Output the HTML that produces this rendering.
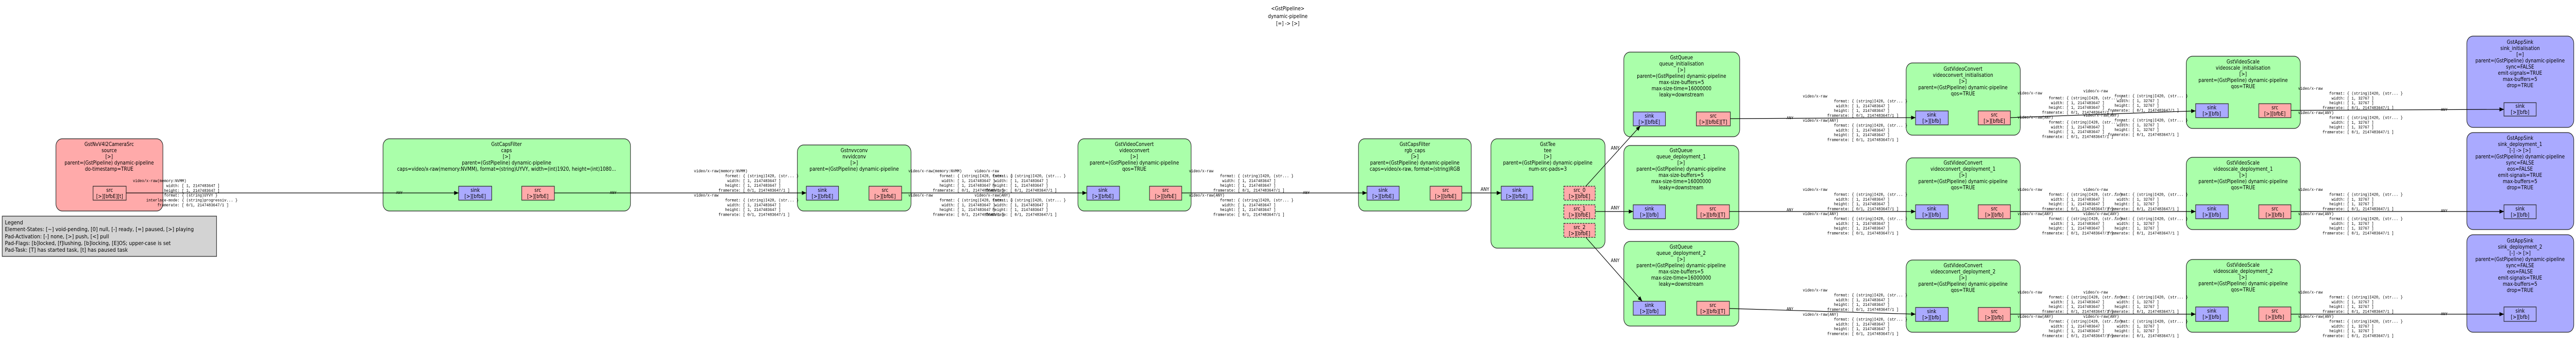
<!DOCTYPE html>
<html><head><meta charset="utf-8"><style>
html,body{margin:0;padding:0;background:#fff;width:100vw;height:100vh;overflow:hidden;}
svg{display:block;position:absolute;left:0;top:0;width:100vw;height:100vh;}
.n{font-family:"DejaVu Sans","Liberation Sans",sans-serif;font-size:10.3px;text-anchor:middle;fill:#000;}
.m{font-family:"Liberation Mono","DejaVu Sans Mono",monospace;font-size:8.3px;fill:#000;white-space:pre;}
.l{font-family:"DejaVu Sans","Liberation Sans",sans-serif;font-size:11px;fill:#000;}
.a{font-family:"DejaVu Sans","Liberation Sans",sans-serif;font-size:9.5px;fill:#000;}
.nd{stroke:#222;stroke-width:1.2;}
.pd{stroke:#222;stroke-width:1.2;}
.e{stroke:#000;stroke-width:1.2;fill:none;}
</style></head><body>
<svg viewBox="0 0 5757 661" preserveAspectRatio="none" xmlns="http://www.w3.org/2000/svg">
<defs><marker id="ar" markerWidth="10" markerHeight="8" refX="10" refY="4" orient="auto" markerUnits="userSpaceOnUse"><path d="M0,0 L10,4 L0,8 z" fill="#000"/></marker></defs>

<text class="n" x="2878" y="20">&lt;GstPipeline&gt;</text>
<text class="n" x="2878" y="35">dynamic-pipeline</text>
<text class="n" x="2878" y="49">[=] -&gt; [&gt;]</text>

<rect x="5" y="419" width="479" height="78" fill="#d3d3d3" stroke="#444" stroke-width="1.5"/>
<text class="l" x="11" y="435">Legend</text>
<text class="l" x="11" y="448">Element-States: [~] void-pending, [0] null, [-] ready, [=] paused, [&gt;] playing</text>
<text class="l" x="11" y="462">Pad-Activation: [-] none, [&gt;] push, [&lt;] pull</text>
<text class="l" x="11" y="475">Pad-Flags: [b]locked, [f]lushing, [b]locking, [E]OS; upper-case is set</text>
<text class="l" x="11" y="488">Pad-Task: [T] has started task, [t] has paused task</text>

<rect class="nd" x="125" y="269" width="239" height="140" rx="14" fill="#ffaaaa"/>
<text class="n" x="244" y="283">GstNvV4l2CameraSrc<tspan x="244" dy="12">source</tspan><tspan x="244" dy="12">[&gt;]</tspan><tspan x="244" dy="12">parent=(GstPipeline) dynamic-pipeline</tspan><tspan x="244" dy="12">do-timestamp=TRUE</tspan></text>
<rect class="pd" x="208" y="361" width="74" height="27" fill="#ffaaaa"/>
<text class="n" x="245" y="372">src<tspan x="245" dy="12">[&gt;][bfbE][t]</tspan></text>

<rect class="nd" x="856" y="269" width="553" height="140" rx="14" fill="#aaffaa"/>
<text class="n" x="1132" y="283">GstCapsFilter<tspan x="1132" dy="12">caps</tspan><tspan x="1132" dy="12">[&gt;]</tspan><tspan x="1132" dy="12">parent=(GstPipeline) dynamic-pipeline</tspan><tspan x="1132" dy="12">caps=video/x-raw(memory:NVMM), format=(string)UYVY, width=(int)1920, height=(int)1080...</tspan></text>
<rect class="pd" x="1025" y="361" width="74" height="27" fill="#aaaaff"/>
<text class="n" x="1062" y="372">sink<tspan x="1062" dy="12">[&gt;][bfbE]</tspan></text>
<rect class="pd" x="1166" y="361" width="73" height="27" fill="#ffaaaa"/>
<text class="n" x="1202" y="372">src<tspan x="1202" dy="12">[&gt;][bfbE]</tspan></text>

<rect class="nd" x="1782" y="281" width="254" height="128" rx="14" fill="#aaffaa"/>
<text class="n" x="1909" y="295">Gstnvvconv<tspan x="1909" dy="12">nvvidconv</tspan><tspan x="1909" dy="12">[&gt;]</tspan><tspan x="1909" dy="12">parent=(GstPipeline) dynamic-pipeline</tspan></text>
<rect class="pd" x="1802" y="361" width="72" height="27" fill="#aaaaff"/>
<text class="n" x="1838" y="372">sink<tspan x="1838" dy="12">[&gt;][bfbE]</tspan></text>
<rect class="pd" x="1942" y="361" width="73" height="27" fill="#ffaaaa"/>
<text class="n" x="1978" y="372">src<tspan x="1978" dy="12">[&gt;][bfbE]</tspan></text>

<rect class="nd" x="2409" y="269" width="253" height="140" rx="14" fill="#aaffaa"/>
<text class="n" x="2535" y="283">GstVideoConvert<tspan x="2535" dy="12">videoconvert</tspan><tspan x="2535" dy="12">[&gt;]</tspan><tspan x="2535" dy="12">parent=(GstPipeline) dynamic-pipeline</tspan><tspan x="2535" dy="12">qos=TRUE</tspan></text>
<rect class="pd" x="2429" y="361" width="73" height="27" fill="#aaaaff"/>
<text class="n" x="2465" y="372">sink<tspan x="2465" dy="12">[&gt;][bfbE]</tspan></text>
<rect class="pd" x="2569" y="361" width="72" height="27" fill="#ffaaaa"/>
<text class="n" x="2605" y="372">src<tspan x="2605" dy="12">[&gt;][bfbE]</tspan></text>

<rect class="nd" x="3036" y="269" width="252" height="140" rx="14" fill="#aaffaa"/>
<text class="n" x="3162" y="283">GstCapsFilter<tspan x="3162" dy="12">rgb_caps</tspan><tspan x="3162" dy="12">[&gt;]</tspan><tspan x="3162" dy="12">parent=(GstPipeline) dynamic-pipeline</tspan><tspan x="3162" dy="12">caps=video/x-raw, format=(string)RGB</tspan></text>
<rect class="pd" x="3055" y="361" width="72" height="27" fill="#aaaaff"/>
<text class="n" x="3091" y="372">sink<tspan x="3091" dy="12">[&gt;][bfbE]</tspan></text>
<rect class="pd" x="3196" y="361" width="71" height="27" fill="#ffaaaa"/>
<text class="n" x="3231" y="372">src<tspan x="3231" dy="12">[&gt;][bfbE]</tspan></text>

<rect class="nd" x="3332" y="269" width="255" height="212" rx="14" fill="#aaffaa"/>
<text class="n" x="3459" y="283">GstTee<tspan x="3459" dy="12">tee</tspan><tspan x="3459" dy="12">[&gt;]</tspan><tspan x="3459" dy="12">parent=(GstPipeline) dynamic-pipeline</tspan><tspan x="3459" dy="12">num-src-pads=3</tspan></text>
<rect class="pd" x="3355" y="361" width="71" height="27" fill="#aaaaff"/>
<text class="n" x="3390" y="372">sink<tspan x="3390" dy="12">[&gt;][bfbE]</tspan></text>
<rect class="pd" x="3495" y="361" width="70" height="27" fill="#ffaaaa" stroke-dasharray="4,2"/>
<text class="n" x="3530" y="372">src_0<tspan x="3530" dy="12">[&gt;][bfbE]</tspan></text>
<rect class="pd" x="3495" y="397" width="70" height="27" fill="#ffaaaa" stroke-dasharray="4,2"/>
<text class="n" x="3530" y="408">src_1<tspan x="3530" dy="12">[&gt;][bfbE]</tspan></text>
<rect class="pd" x="3495" y="433" width="70" height="27" fill="#ffaaaa" stroke-dasharray="4,2"/>
<text class="n" x="3530" y="444">src_2<tspan x="3530" dy="12">[&gt;][bfbE]</tspan></text>

<rect class="nd" x="3629" y="101" width="259" height="164" rx="14" fill="#aaffaa"/>
<text class="n" x="3758" y="115">GstQueue<tspan x="3758" dy="12">queue_initialisation</tspan><tspan x="3758" dy="12">[&gt;]</tspan><tspan x="3758" dy="12">parent=(GstPipeline) dynamic-pipeline</tspan><tspan x="3758" dy="12">max-size-buffers=5</tspan><tspan x="3758" dy="12">max-size-time=16000000</tspan><tspan x="3758" dy="12">leaky=downstream</tspan></text>
<rect class="pd" x="3650" y="217" width="72" height="27" fill="#aaaaff"/>
<text class="n" x="3686" y="228">sink<tspan x="3686" dy="12">[&gt;][bfbE]</tspan></text>
<rect class="pd" x="3791" y="217" width="76" height="27" fill="#ffaaaa"/>
<text class="n" x="3829" y="228">src<tspan x="3829" dy="12">[&gt;][bfbE][T]</tspan></text>

<rect class="nd" x="3629" y="282" width="257" height="163" rx="14" fill="#aaffaa"/>
<text class="n" x="3757" y="295">GstQueue<tspan x="3757" dy="12">queue_deployment_1</tspan><tspan x="3757" dy="12">[&gt;]</tspan><tspan x="3757" dy="12">parent=(GstPipeline) dynamic-pipeline</tspan><tspan x="3757" dy="12">max-size-buffers=5</tspan><tspan x="3757" dy="12">max-size-time=16000000</tspan><tspan x="3757" dy="12">leaky=downstream</tspan></text>
<rect class="pd" x="3650" y="397" width="72" height="27" fill="#aaaaff"/>
<text class="n" x="3686" y="408">sink<tspan x="3686" dy="12">[&gt;][bfb]</tspan></text>
<rect class="pd" x="3792" y="397" width="73" height="27" fill="#ffaaaa"/>
<text class="n" x="3828" y="408">src<tspan x="3828" dy="12">[&gt;][bfb][T]</tspan></text>

<rect class="nd" x="3629" y="468" width="257" height="164" rx="14" fill="#aaffaa"/>
<text class="n" x="3757" y="482">GstQueue<tspan x="3757" dy="12">queue_deployment_2</tspan><tspan x="3757" dy="12">[&gt;]</tspan><tspan x="3757" dy="12">parent=(GstPipeline) dynamic-pipeline</tspan><tspan x="3757" dy="12">max-size-buffers=5</tspan><tspan x="3757" dy="12">max-size-time=16000000</tspan><tspan x="3757" dy="12">leaky=downstream</tspan></text>
<rect class="pd" x="3650" y="584" width="72" height="27" fill="#aaaaff"/>
<text class="n" x="3686" y="595">sink<tspan x="3686" dy="12">[&gt;][bfb]</tspan></text>
<rect class="pd" x="3792" y="584" width="73" height="27" fill="#ffaaaa"/>
<text class="n" x="3828" y="595">src<tspan x="3828" dy="12">[&gt;][bfb][T]</tspan></text>

<rect class="nd" x="4260" y="122" width="255" height="140" rx="14" fill="#aaffaa"/>
<text class="n" x="4387" y="137">GstVideoConvert<tspan x="4387" dy="12">videoconvert_initialisation</tspan><tspan x="4387" dy="12">[&gt;]</tspan><tspan x="4387" dy="12">parent=(GstPipeline) dynamic-pipeline</tspan><tspan x="4387" dy="12">qos=TRUE</tspan></text>
<rect class="pd" x="4281" y="215" width="73" height="27" fill="#aaaaff"/>
<text class="n" x="4317" y="226">sink<tspan x="4317" dy="12">[&gt;][bfb]</tspan></text>
<rect class="pd" x="4421" y="215" width="72" height="27" fill="#ffaaaa"/>
<text class="n" x="4457" y="226">src<tspan x="4457" dy="12">[&gt;][bfbE]</tspan></text>

<rect class="nd" x="4260" y="306" width="255" height="139" rx="14" fill="#aaffaa"/>
<text class="n" x="4387" y="319">GstVideoConvert<tspan x="4387" dy="12">videoconvert_deployment_1</tspan><tspan x="4387" dy="12">[&gt;]</tspan><tspan x="4387" dy="12">parent=(GstPipeline) dynamic-pipeline</tspan><tspan x="4387" dy="12">qos=TRUE</tspan></text>
<rect class="pd" x="4281" y="397" width="73" height="27" fill="#aaaaff"/>
<text class="n" x="4317" y="408">sink<tspan x="4317" dy="12">[&gt;][bfb]</tspan></text>
<rect class="pd" x="4421" y="397" width="72" height="27" fill="#ffaaaa"/>
<text class="n" x="4457" y="408">src<tspan x="4457" dy="12">[&gt;][bfb]</tspan></text>

<rect class="nd" x="4260" y="504" width="255" height="140" rx="14" fill="#aaffaa"/>
<text class="n" x="4387" y="518">GstVideoConvert<tspan x="4387" dy="12">videoconvert_deployment_2</tspan><tspan x="4387" dy="12">[&gt;]</tspan><tspan x="4387" dy="12">parent=(GstPipeline) dynamic-pipeline</tspan><tspan x="4387" dy="12">qos=TRUE</tspan></text>
<rect class="pd" x="4281" y="596" width="73" height="27" fill="#aaaaff"/>
<text class="n" x="4317" y="607">sink<tspan x="4317" dy="12">[&gt;][bfb]</tspan></text>
<rect class="pd" x="4421" y="596" width="72" height="27" fill="#ffaaaa"/>
<text class="n" x="4457" y="607">src<tspan x="4457" dy="12">[&gt;][bfb]</tspan></text>

<rect class="nd" x="4886" y="109" width="255" height="140" rx="14" fill="#aaffaa"/>
<text class="n" x="5013" y="123">GstVideoScale<tspan x="5013" dy="12">videoscale_initialisation</tspan><tspan x="5013" dy="12">[&gt;]</tspan><tspan x="5013" dy="12">parent=(GstPipeline) dynamic-pipeline</tspan><tspan x="5013" dy="12">qos=TRUE</tspan></text>
<rect class="pd" x="4907" y="201" width="73" height="27" fill="#aaaaff"/>
<text class="n" x="4943" y="212">sink<tspan x="4943" dy="12">[&gt;][bfb]</tspan></text>
<rect class="pd" x="5048" y="201" width="72" height="27" fill="#ffaaaa"/>
<text class="n" x="5084" y="212">src<tspan x="5084" dy="12">[&gt;][bfbE]</tspan></text>

<rect class="nd" x="4886" y="305" width="255" height="140" rx="14" fill="#aaffaa"/>
<text class="n" x="5013" y="319">GstVideoScale<tspan x="5013" dy="12">videoscale_deployment_1</tspan><tspan x="5013" dy="12">[&gt;]</tspan><tspan x="5013" dy="12">parent=(GstPipeline) dynamic-pipeline</tspan><tspan x="5013" dy="12">qos=TRUE</tspan></text>
<rect class="pd" x="4907" y="397" width="73" height="27" fill="#aaaaff"/>
<text class="n" x="4943" y="408">sink<tspan x="4943" dy="12">[&gt;][bfb]</tspan></text>
<rect class="pd" x="5048" y="397" width="72" height="27" fill="#ffaaaa"/>
<text class="n" x="5084" y="408">src<tspan x="5084" dy="12">[&gt;][bfb]</tspan></text>

<rect class="nd" x="4886" y="503" width="255" height="141" rx="14" fill="#aaffaa"/>
<text class="n" x="5013" y="517">GstVideoScale<tspan x="5013" dy="12">videoscale_deployment_2</tspan><tspan x="5013" dy="12">[&gt;]</tspan><tspan x="5013" dy="12">parent=(GstPipeline) dynamic-pipeline</tspan><tspan x="5013" dy="12">qos=TRUE</tspan></text>
<rect class="pd" x="4907" y="595" width="73" height="28" fill="#aaaaff"/>
<text class="n" x="4943" y="606">sink<tspan x="4943" dy="12">[&gt;][bfb]</tspan></text>
<rect class="pd" x="5048" y="595" width="72" height="28" fill="#ffaaaa"/>
<text class="n" x="5084" y="606">src<tspan x="5084" dy="12">[&gt;][bfb]</tspan></text>

<rect class="nd" x="5513" y="70" width="239" height="177" rx="14" fill="#aaaaff"/>
<text class="n" x="5632" y="85">GstAppSink<tspan x="5632" dy="12">sink_initialisation</tspan><tspan x="5632" dy="12">[=]</tspan><tspan x="5632" dy="12">parent=(GstPipeline) dynamic-pipeline</tspan><tspan x="5632" dy="12">sync=FALSE</tspan><tspan x="5632" dy="12">emit-signals=TRUE</tspan><tspan x="5632" dy="12">max-buffers=5</tspan><tspan x="5632" dy="12">drop=TRUE</tspan></text>
<rect class="pd" x="5596" y="199" width="72" height="26" fill="#aaaaff"/>
<text class="n" x="5632" y="209">sink<tspan x="5632" dy="12">[&gt;][bfb]</tspan></text>

<rect class="nd" x="5513" y="257" width="239" height="188" rx="14" fill="#aaaaff"/>
<text class="n" x="5632" y="271">GstAppSink<tspan x="5632" dy="12">sink_deployment_1</tspan><tspan x="5632" dy="12">[-] -&gt; [&gt;]</tspan><tspan x="5632" dy="12">parent=(GstPipeline) dynamic-pipeline</tspan><tspan x="5632" dy="12">sync=FALSE</tspan><tspan x="5632" dy="12">eos=FALSE</tspan><tspan x="5632" dy="12">emit-signals=TRUE</tspan><tspan x="5632" dy="12">max-buffers=5</tspan><tspan x="5632" dy="12">drop=TRUE</tspan></text>
<rect class="pd" x="5596" y="397" width="72" height="27" fill="#aaaaff"/>
<text class="n" x="5632" y="408">sink<tspan x="5632" dy="12">[&gt;][bfb]</tspan></text>

<rect class="nd" x="5513" y="455" width="239" height="189" rx="14" fill="#aaaaff"/>
<text class="n" x="5632" y="470">GstAppSink<tspan x="5632" dy="12">sink_deployment_2</tspan><tspan x="5632" dy="12">[-] -&gt; [&gt;]</tspan><tspan x="5632" dy="12">parent=(GstPipeline) dynamic-pipeline</tspan><tspan x="5632" dy="12">sync=FALSE</tspan><tspan x="5632" dy="12">eos=FALSE</tspan><tspan x="5632" dy="12">emit-signals=TRUE</tspan><tspan x="5632" dy="12">max-buffers=5</tspan><tspan x="5632" dy="12">drop=TRUE</tspan></text>
<rect class="pd" x="5596" y="595" width="72" height="28" fill="#aaaaff"/>
<text class="n" x="5632" y="606">sink<tspan x="5632" dy="12">[&gt;][bfb]</tspan></text>

<g marker-end="url(#ar)">
<line class="e" x1="282" y1="374" x2="1025" y2="374"/>
<line class="e" x1="1239" y1="374" x2="1802" y2="374"/>
<line class="e" x1="2015" y1="374" x2="2429" y2="374"/>
<line class="e" x1="2641" y1="374" x2="3055" y2="374"/>
<line class="e" x1="3267" y1="374" x2="3355" y2="374"/>
<line class="e" x1="3544" y1="361" x2="3666" y2="244"/>
<line class="e" x1="3565" y1="410" x2="3650" y2="410"/>
<line class="e" x1="3544" y1="460" x2="3670" y2="584"/>
<line class="e" x1="3867" y1="230" x2="4281" y2="228"/>
<line class="e" x1="3865" y1="410" x2="4281" y2="410"/>
<line class="e" x1="3865" y1="598" x2="4281" y2="609"/>
<line class="e" x1="4493" y1="228" x2="4907" y2="215"/>
<line class="e" x1="4493" y1="410" x2="4907" y2="410"/>
<line class="e" x1="4493" y1="609" x2="4907" y2="609"/>
<line class="e" x1="5120" y1="214" x2="5596" y2="212"/>
<line class="e" x1="5120" y1="410" x2="5596" y2="410"/>
<line class="e" x1="5120" y1="609" x2="5596" y2="609"/>
</g>

<text class="a" x="3309" y="370">ANY</text>
<text class="a" x="3600" y="290">ANY</text>
<text class="a" x="3600" y="406">ANY</text>
<text class="a" x="3600" y="508">ANY</text>
<text class="m" x="885" y="376">ANY</text>
<text class="m" x="1363" y="376">ANY</text>
<text class="m" x="2912" y="376">ANY</text>
<text class="m" x="3993" y="231">ANY</text>
<text class="m" x="3993" y="409">ANY</text>
<text class="m" x="3993" y="601">ANY</text>
<text class="m" x="5455" y="215">ANY</text>
<text class="m" x="5455" y="411">ANY</text>
<text class="m" x="5455" y="611">ANY</text>

<text class="m" x="297" y="353">video/x-raw(memory:NVMM)<tspan x="297" dy="9.4">               width: [ 1, 2147483647 ]</tspan><tspan x="297" dy="9.4">              height: [ 1, 2147483647 ]</tspan><tspan x="297" dy="9.4">              format: { (string)UYVY }</tspan><tspan x="297" dy="9.4">      interlace-mode: { (string)progressiv... }</tspan><tspan x="297" dy="9.4">           framerate: [ 0/1, 2147483647/1 ]</tspan></text>

<text class="m" x="1551" y="334">video/x-raw(memory:NVMM)<tspan x="1551" dy="9.4">              format: { (string)I420, (str... }</tspan><tspan x="1551" dy="9.4">               width: [ 1, 2147483647 ]</tspan><tspan x="1551" dy="9.4">              height: [ 1, 2147483647 ]</tspan><tspan x="1551" dy="9.4">           framerate: [ 0/1, 2147483647/1 ]</tspan><tspan x="1551" dy="9.4">video/x-raw</tspan><tspan x="1551" dy="9.4">              format: { (string)I420, (str... }</tspan><tspan x="1551" dy="9.4">               width: [ 1, 2147483647 ]</tspan><tspan x="1551" dy="9.4">              height: [ 1, 2147483647 ]</tspan><tspan x="1551" dy="9.4">           framerate: [ 0/1, 2147483647/1 ]</tspan></text>

<text class="m" x="2030" y="334">video/x-raw(memory:NVMM)<tspan x="2030" dy="9.4">              format: { (string)I420, (str... }</tspan><tspan x="2030" dy="9.4">               width: [ 1, 2147483647 ]</tspan><tspan x="2030" dy="9.4">              height: [ 1, 2147483647 ]</tspan><tspan x="2030" dy="9.4">           framerate: [ 0/1, 2147483647/1 ]</tspan><tspan x="2030" dy="9.4">video/x-raw</tspan><tspan x="2030" dy="9.4">              format: { (string)I420, (str... }</tspan><tspan x="2030" dy="9.4">               width: [ 1, 2147483647 ]</tspan><tspan x="2030" dy="9.4">              height: [ 1, 2147483647 ]</tspan><tspan x="2030" dy="9.4">           framerate: [ 0/1, 2147483647/1 ]</tspan></text>
<text class="m" x="2178" y="334">video/x-raw<tspan x="2178" dy="9.4">        format: { (string)I420, (str... }</tspan><tspan x="2178" dy="9.4">         width: [ 1, 2147483647 ]</tspan><tspan x="2178" dy="9.4">        height: [ 1, 2147483647 ]</tspan><tspan x="2178" dy="9.4">     framerate: [ 0/1, 2147483647/1 ]</tspan><tspan x="2178" dy="9.4">video/x-raw(ANY)</tspan><tspan x="2178" dy="9.4">        format: { (string)I420, (str... }</tspan><tspan x="2178" dy="9.4">         width: [ 1, 2147483647 ]</tspan><tspan x="2178" dy="9.4">        height: [ 1, 2147483647 ]</tspan><tspan x="2178" dy="9.4">     framerate: [ 0/1, 2147483647/1 ]</tspan></text>

<text class="m" x="2657" y="334">video/x-raw<tspan x="2657" dy="9.4">              format: { (string)I420, (str... }</tspan><tspan x="2657" dy="9.4">               width: [ 1, 2147483647 ]</tspan><tspan x="2657" dy="9.4">              height: [ 1, 2147483647 ]</tspan><tspan x="2657" dy="9.4">           framerate: [ 0/1, 2147483647/1 ]</tspan><tspan x="2657" dy="9.4">video/x-raw(ANY)</tspan><tspan x="2657" dy="9.4">              format: { (string)I420, (str... }</tspan><tspan x="2657" dy="9.4">               width: [ 1, 2147483647 ]</tspan><tspan x="2657" dy="9.4">              height: [ 1, 2147483647 ]</tspan><tspan x="2657" dy="9.4">           framerate: [ 0/1, 2147483647/1 ]</tspan></text>

<text class="m" x="4029" y="189">video/x-raw<tspan x="4029" dy="9.4">              format: { (string)I420, (str... }</tspan><tspan x="4029" dy="9.4">               width: [ 1, 2147483647 ]</tspan><tspan x="4029" dy="9.4">              height: [ 1, 2147483647 ]</tspan><tspan x="4029" dy="9.4">           framerate: [ 0/1, 2147483647/1 ]</tspan><tspan x="4029" dy="9.4">video/x-raw(ANY)</tspan><tspan x="4029" dy="9.4">              format: { (string)I420, (str... }</tspan><tspan x="4029" dy="9.4">               width: [ 1, 2147483647 ]</tspan><tspan x="4029" dy="9.4">              height: [ 1, 2147483647 ]</tspan><tspan x="4029" dy="9.4">           framerate: [ 0/1, 2147483647/1 ]</tspan></text>
<text class="m" x="4029" y="370">video/x-raw<tspan x="4029" dy="9.4">              format: { (string)I420, (str... }</tspan><tspan x="4029" dy="9.4">               width: [ 1, 2147483647 ]</tspan><tspan x="4029" dy="9.4">              height: [ 1, 2147483647 ]</tspan><tspan x="4029" dy="9.4">           framerate: [ 0/1, 2147483647/1 ]</tspan><tspan x="4029" dy="9.4">video/x-raw(ANY)</tspan><tspan x="4029" dy="9.4">              format: { (string)I420, (str... }</tspan><tspan x="4029" dy="9.4">               width: [ 1, 2147483647 ]</tspan><tspan x="4029" dy="9.4">              height: [ 1, 2147483647 ]</tspan><tspan x="4029" dy="9.4">           framerate: [ 0/1, 2147483647/1 ]</tspan></text>
<text class="m" x="4029" y="565">video/x-raw<tspan x="4029" dy="9.4">              format: { (string)I420, (str... }</tspan><tspan x="4029" dy="9.4">               width: [ 1, 2147483647 ]</tspan><tspan x="4029" dy="9.4">              height: [ 1, 2147483647 ]</tspan><tspan x="4029" dy="9.4">           framerate: [ 0/1, 2147483647/1 ]</tspan><tspan x="4029" dy="9.4">video/x-raw(ANY)</tspan><tspan x="4029" dy="9.4">              format: { (string)I420, (str... }</tspan><tspan x="4029" dy="9.4">               width: [ 1, 2147483647 ]</tspan><tspan x="4029" dy="9.4">              height: [ 1, 2147483647 ]</tspan><tspan x="4029" dy="9.4">           framerate: [ 0/1, 2147483647/1 ]</tspan></text>

<text class="m" x="4509" y="183">video/x-raw<tspan x="4509" dy="9.4">              format: { (string)I420, (str... }</tspan><tspan x="4509" dy="9.4">               width: [ 1, 2147483647 ]</tspan><tspan x="4509" dy="9.4">              height: [ 1, 2147483647 ]</tspan><tspan x="4509" dy="9.4">           framerate: [ 0/1, 2147483647/1 ]</tspan><tspan x="4509" dy="9.4">video/x-raw(ANY)</tspan><tspan x="4509" dy="9.4">              format: { (string)I420, (str... }</tspan><tspan x="4509" dy="9.4">               width: [ 1, 2147483647 ]</tspan><tspan x="4509" dy="9.4">              height: [ 1, 2147483647 ]</tspan><tspan x="4509" dy="9.4">           framerate: [ 0/1, 2147483647/1 ]</tspan></text>
<text class="m" x="4656" y="179">video/x-raw<tspan x="4656" dy="9.4">              format: { (string)I420, (str... }</tspan><tspan x="4656" dy="9.4">               width: [ 1, 32767 ]</tspan><tspan x="4656" dy="9.4">              height: [ 1, 32767 ]</tspan><tspan x="4656" dy="9.4">           framerate: [ 0/1, 2147483647/1 ]</tspan><tspan x="4656" dy="9.4">video/x-raw(ANY)</tspan><tspan x="4656" dy="9.4">              format: { (string)I420, (str... }</tspan><tspan x="4656" dy="9.4">               width: [ 1, 32767 ]</tspan><tspan x="4656" dy="9.4">              height: [ 1, 32767 ]</tspan><tspan x="4656" dy="9.4">           framerate: [ 0/1, 2147483647/1 ]</tspan></text>
<text class="m" x="4509" y="370">video/x-raw<tspan x="4509" dy="9.4">              format: { (string)I420, (str... }</tspan><tspan x="4509" dy="9.4">               width: [ 1, 2147483647 ]</tspan><tspan x="4509" dy="9.4">              height: [ 1, 2147483647 ]</tspan><tspan x="4509" dy="9.4">           framerate: [ 0/1, 2147483647/1 ]</tspan><tspan x="4509" dy="9.4">video/x-raw(ANY)</tspan><tspan x="4509" dy="9.4">              format: { (string)I420, (str... }</tspan><tspan x="4509" dy="9.4">               width: [ 1, 2147483647 ]</tspan><tspan x="4509" dy="9.4">              height: [ 1, 2147483647 ]</tspan><tspan x="4509" dy="9.4">           framerate: [ 0/1, 2147483647/1 ]</tspan></text>
<text class="m" x="4656" y="370">video/x-raw<tspan x="4656" dy="9.4">              format: { (string)I420, (str... }</tspan><tspan x="4656" dy="9.4">               width: [ 1, 32767 ]</tspan><tspan x="4656" dy="9.4">              height: [ 1, 32767 ]</tspan><tspan x="4656" dy="9.4">           framerate: [ 0/1, 2147483647/1 ]</tspan><tspan x="4656" dy="9.4">video/x-raw(ANY)</tspan><tspan x="4656" dy="9.4">              format: { (string)I420, (str... }</tspan><tspan x="4656" dy="9.4">               width: [ 1, 32767 ]</tspan><tspan x="4656" dy="9.4">              height: [ 1, 32767 ]</tspan><tspan x="4656" dy="9.4">           framerate: [ 0/1, 2147483647/1 ]</tspan></text>
<text class="m" x="4509" y="569">video/x-raw<tspan x="4509" dy="9.4">              format: { (string)I420, (str... }</tspan><tspan x="4509" dy="9.4">               width: [ 1, 2147483647 ]</tspan><tspan x="4509" dy="9.4">              height: [ 1, 2147483647 ]</tspan><tspan x="4509" dy="9.4">           framerate: [ 0/1, 2147483647/1 ]</tspan><tspan x="4509" dy="9.4">video/x-raw(ANY)</tspan><tspan x="4509" dy="9.4">              format: { (string)I420, (str... }</tspan><tspan x="4509" dy="9.4">               width: [ 1, 2147483647 ]</tspan><tspan x="4509" dy="9.4">              height: [ 1, 2147483647 ]</tspan><tspan x="4509" dy="9.4">           framerate: [ 0/1, 2147483647/1 ]</tspan></text>
<text class="m" x="4656" y="569">video/x-raw<tspan x="4656" dy="9.4">              format: { (string)I420, (str... }</tspan><tspan x="4656" dy="9.4">               width: [ 1, 32767 ]</tspan><tspan x="4656" dy="9.4">              height: [ 1, 32767 ]</tspan><tspan x="4656" dy="9.4">           framerate: [ 0/1, 2147483647/1 ]</tspan><tspan x="4656" dy="9.4">video/x-raw(ANY)</tspan><tspan x="4656" dy="9.4">              format: { (string)I420, (str... }</tspan><tspan x="4656" dy="9.4">               width: [ 1, 32767 ]</tspan><tspan x="4656" dy="9.4">              height: [ 1, 32767 ]</tspan><tspan x="4656" dy="9.4">           framerate: [ 0/1, 2147483647/1 ]</tspan></text>

<text class="m" x="5136" y="174">video/x-raw<tspan x="5136" dy="9.4">              format: { (string)I420, (str... }</tspan><tspan x="5136" dy="9.4">               width: [ 1, 32767 ]</tspan><tspan x="5136" dy="9.4">              height: [ 1, 32767 ]</tspan><tspan x="5136" dy="9.4">           framerate: [ 0/1, 2147483647/1 ]</tspan><tspan x="5136" dy="9.4">video/x-raw(ANY)</tspan><tspan x="5136" dy="9.4">              format: { (string)I420, (str... }</tspan><tspan x="5136" dy="9.4">               width: [ 1, 32767 ]</tspan><tspan x="5136" dy="9.4">              height: [ 1, 32767 ]</tspan><tspan x="5136" dy="9.4">           framerate: [ 0/1, 2147483647/1 ]</tspan></text>
<text class="m" x="5136" y="370">video/x-raw<tspan x="5136" dy="9.4">              format: { (string)I420, (str... }</tspan><tspan x="5136" dy="9.4">               width: [ 1, 32767 ]</tspan><tspan x="5136" dy="9.4">              height: [ 1, 32767 ]</tspan><tspan x="5136" dy="9.4">           framerate: [ 0/1, 2147483647/1 ]</tspan><tspan x="5136" dy="9.4">video/x-raw(ANY)</tspan><tspan x="5136" dy="9.4">              format: { (string)I420, (str... }</tspan><tspan x="5136" dy="9.4">               width: [ 1, 32767 ]</tspan><tspan x="5136" dy="9.4">              height: [ 1, 32767 ]</tspan><tspan x="5136" dy="9.4">           framerate: [ 0/1, 2147483647/1 ]</tspan></text>
<text class="m" x="5136" y="569">video/x-raw<tspan x="5136" dy="9.4">              format: { (string)I420, (str... }</tspan><tspan x="5136" dy="9.4">               width: [ 1, 32767 ]</tspan><tspan x="5136" dy="9.4">              height: [ 1, 32767 ]</tspan><tspan x="5136" dy="9.4">           framerate: [ 0/1, 2147483647/1 ]</tspan><tspan x="5136" dy="9.4">video/x-raw(ANY)</tspan><tspan x="5136" dy="9.4">              format: { (string)I420, (str... }</tspan><tspan x="5136" dy="9.4">               width: [ 1, 32767 ]</tspan><tspan x="5136" dy="9.4">              height: [ 1, 32767 ]</tspan><tspan x="5136" dy="9.4">           framerate: [ 0/1, 2147483647/1 ]</tspan></text>
</svg>
</body></html>
